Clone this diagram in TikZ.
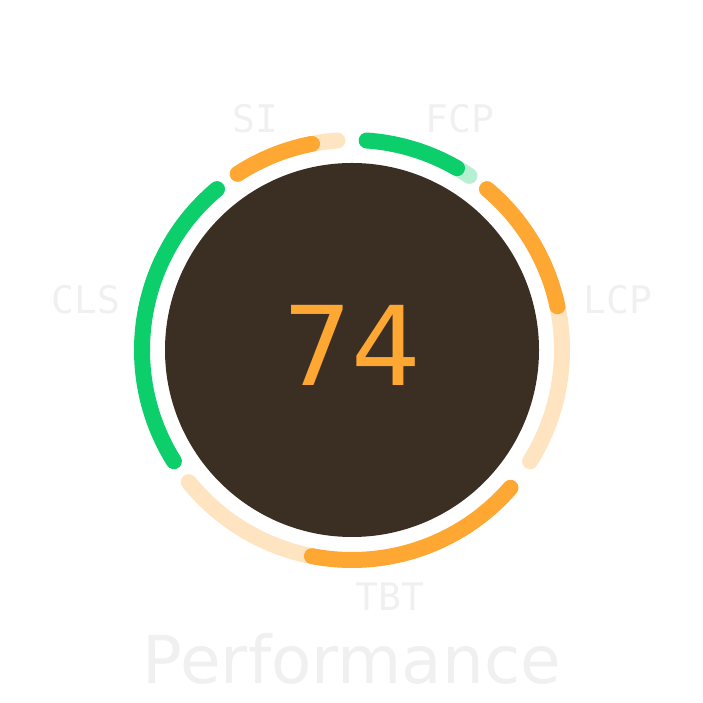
\documentclass[tikz,border=0pt]{standalone}
\usepackage{fontspec}
\setmainfont{DejaVu Sans}
\newfontfamily\monof{DejaVu Sans Mono}
\begin{document}
\begin{tikzpicture}[x=1pt,y=1pt,
  seg/.style={line width=16pt,line cap=round},
  lbl/.style={text=black!6,font=\monof\fontsize{38}{38}\selectfont}]
\useasboundingbox (0,0) rectangle (703,703);
\definecolor{gr}{HTML}{0CCE6B}
\definecolor{lgr}{HTML}{B6F0D2}
\definecolor{og}{HTML}{FFA733}
\definecolor{log}{HTML}{FFE4C2}
\definecolor{dk}{HTML}{3A2F22}
\coordinate (c) at (352,353);
\fill[dk] (c) circle[radius=187];
% FCP
\draw[seg,lgr] (c) ++(60:210) arc[start angle=60,end angle=56,radius=210];
\draw[seg,gr] (c) ++(86:210) arc[start angle=86,end angle=60,radius=210];
% LCP
\draw[seg,log] (c) ++(12:210) arc[start angle=12,end angle=-32,radius=210];
\draw[seg,og] (c) ++(50:210) arc[start angle=50,end angle=12,radius=210];
% TBT
\draw[seg,log] (c) ++(-101:210) arc[start angle=-101,end angle=-141,radius=210];
\draw[seg,og] (c) ++(-41:210) arc[start angle=-41,end angle=-101,radius=210];
% CLS
\draw[seg,gr] (c) ++(212:210) arc[start angle=212,end angle=130,radius=210];
% SI
\draw[seg,log] (c) ++(101:210) arc[start angle=101,end angle=94,radius=210];
\draw[seg,og] (c) ++(123:210) arc[start angle=123,end angle=101,radius=210];
\node[text=og,font=\fontsize{110}{110}\selectfont] (score) at (352,358) {74};
\node[lbl] (si) at (255,584) {SI};
\node[lbl] (fcp) at (460,584) {FCP};
\node[lbl] (lcp) at (618,403) {LCP};
\node[lbl] (cls) at (86,403) {CLS};
\node[lbl] (tbt) at (390,106) {TBT};
\node[text=black!6,font=\fontsize{66}{66}\selectfont] (perf) at (352,44) {Performance};
\end{tikzpicture}
\end{document}
